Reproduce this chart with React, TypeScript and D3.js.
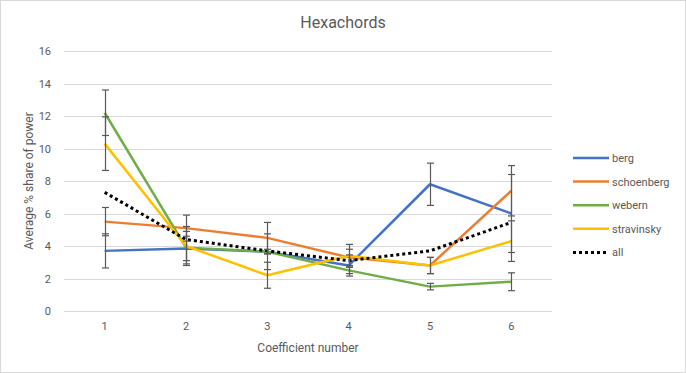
import React, { useEffect, useRef } from 'react';
import * as d3 from 'd3';

const coefficients = [1, 2, 3, 4, 5, 6];
const yTicks = [0, 2, 4, 6, 8, 10, 12, 14, 16];

const bergValues = [3.7, 3.85, 3.65, 2.8, 7.8, 6.0];
const bergErrors = [1.05, 0.75, 0.15, 0.65, 1.3, 2.4];
const schoenbergValues = [5.5, 5.1, 4.5, 3.3, 2.8, 7.4];
const schoenbergErrors = [0.87, 0.8, 0.95, 0.5, 0.5, 1.55];
const webernValues = [12.2, 3.9, 3.65, 2.5, 1.5, 1.8];
const webernErrors = [1.4, 1.0, 1.1, 0.2, 0.2, 0.55];
const stravinskyValues = [10.3, 4.0, 2.2, 3.4, 2.8, 4.3];
const stravinskyErrors = [1.65, 1.2, 0.8, 0.7, 0.5, 1.25];
const allValues = [7.3, 4.4, 3.7, 3.1, 3.7, 5.45];

interface Series {
  name: string;
  color: string;
  values: number[];
  errors?: number[];
  dotted?: boolean;
}

const series: Series[] = [
  { name: 'berg', color: '#4472C4', values: bergValues, errors: bergErrors },
  { name: 'schoenberg', color: '#ED7D31', values: schoenbergValues, errors: schoenbergErrors },
  { name: 'webern', color: '#70AD47', values: webernValues, errors: webernErrors },
  { name: 'stravinsky', color: '#FFC000', values: stravinskyValues, errors: stravinskyErrors },
  { name: 'all', color: '#000000', values: allValues, dotted: true },
];

const width = 686;
const height = 373;
const font = 'Roboto, "Liberation Sans", sans-serif';
const textColor = '#595959';

const App: React.FC = () => {
  const svgRef = useRef<SVGSVGElement>(null);

  useEffect(() => {
    if (!svgRef.current) return;
    const svg = d3.select(svgRef.current);
    svg.selectAll('*').remove();

    const plot = { left: 64, right: 552, top: 51, bottom: 311 };

    const x = d3.scaleBand<number>()
      .domain(coefficients)
      .range([plot.left, plot.right]);
    const cx = (c: number) => (x(c) as number) + x.bandwidth() / 2;

    const y = d3.scaleLinear()
      .domain([0, 16])
      .range([plot.bottom, plot.top]);

    // chart border
    svg.append('rect')
      .attr('x', 0.5).attr('y', 0.5)
      .attr('width', width - 1).attr('height', height - 1)
      .attr('fill', '#fff')
      .attr('stroke', '#d9d9d9');

    // gridlines
    svg.append('g')
      .selectAll('line')
      .data(yTicks)
      .join('line')
      .attr('x1', plot.left).attr('x2', plot.right)
      .attr('y1', d => Math.round(y(d)) + 0.5)
      .attr('y2', d => Math.round(y(d)) + 0.5)
      .attr('stroke', '#d9d9d9')
      .attr('stroke-width', 1);

    // y tick labels
    svg.append('g')
      .selectAll('text')
      .data(yTicks)
      .join('text')
      .attr('x', 51)
      .attr('y', d => y(d) + 4)
      .attr('text-anchor', 'end')
      .attr('font-family', font)
      .attr('font-size', 11)
      .attr('fill', textColor)
      .text(d => d);

    // x tick labels
    svg.append('g')
      .selectAll('text')
      .data(coefficients)
      .join('text')
      .attr('x', d => cx(d))
      .attr('y', 330)
      .attr('text-anchor', 'middle')
      .attr('font-family', font)
      .attr('font-size', 11)
      .attr('fill', textColor)
      .text(d => d);

    // title
    svg.append('text')
      .attr('x', 343).attr('y', 28)
      .attr('text-anchor', 'middle')
      .attr('font-family', font)
      .attr('font-size', 16)
      .attr('fill', textColor)
      .text('Hexachords');

    // axis titles
    svg.append('text')
      .attr('x', (plot.left + plot.right) / 2)
      .attr('y', 352)
      .attr('text-anchor', 'middle')
      .attr('font-family', font)
      .attr('font-size', 12)
      .attr('fill', textColor)
      .text('Coefficient number');

    svg.append('text')
      .attr('transform', `translate(33,${(plot.top + plot.bottom) / 2}) rotate(-90)`)
      .attr('text-anchor', 'middle')
      .attr('font-family', font)
      .attr('font-size', 12)
      .attr('fill', textColor)
      .text('Average % share of power');

    const line = d3.line<number>()
      .x((_, i) => cx(coefficients[i]))
      .y(d => y(d));

    // series lines
    series.forEach(s => {
      svg.append('path')
        .datum(s.values)
        .attr('d', line)
        .attr('fill', 'none')
        .attr('stroke', s.color)
        .attr('stroke-width', s.dotted ? 3 : 2.5)
        .attr('stroke-dasharray', s.dotted ? '3 3' : null)
        .attr('stroke-linejoin', 'round');
    });

    // error bars
    const cap = 3.5;
    series.forEach(s => {
      if (!s.errors) return;
      const g = svg.append('g')
        .attr('stroke', '#595959')
        .attr('stroke-width', 1.2);
      s.values.forEach((v, i) => {
        const e = s.errors![i];
        const px = Math.round(cx(coefficients[i])) + 0.5;
        const top = y(v + e);
        const bot = y(v - e);
        g.append('line').attr('x1', px).attr('x2', px).attr('y1', top).attr('y2', bot);
        g.append('line').attr('x1', px - cap).attr('x2', px + cap).attr('y1', top).attr('y2', top);
        g.append('line').attr('x1', px - cap).attr('x2', px + cap).attr('y1', bot).attr('y2', bot);
      });
    });

    // legend
    const legend = svg.append('g');
    series.forEach((s, i) => {
      const ly = 158 + i * 23.6;
      legend.append('line')
        .attr('x1', 573).attr('x2', 609)
        .attr('y1', ly).attr('y2', ly)
        .attr('stroke', s.color)
        .attr('stroke-width', s.dotted ? 3 : 2.5)
        .attr('stroke-dasharray', s.dotted ? '3 3' : null);
      legend.append('text')
        .attr('x', 612)
        .attr('y', ly + 4)
        .attr('font-family', font)
        .attr('font-size', 11)
        .attr('fill', textColor)
        .text(s.name);
    });
  }, []);

  return (
    <svg
      ref={svgRef}
      width={width}
      height={height}
      style={{ position: 'fixed', left: 0, top: 0 }}
    />
  );
};

export default App;
